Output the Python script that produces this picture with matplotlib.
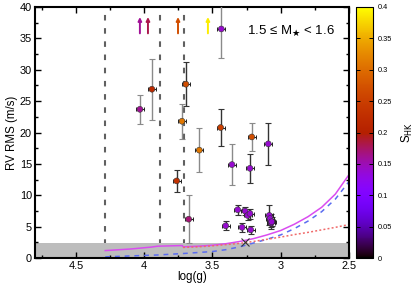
import matplotlib
matplotlib.use("Agg")
import matplotlib.pyplot as plt
import numpy as np
from matplotlib.colors import Normalize

plt.rcParams['font.family'] = ['Liberation Sans', 'DejaVu Sans']
plt.rcParams['mathtext.fontset'] = 'dejavusans'
plt.rcParams['lines.scale_dashes'] = False

# stars with measured RV RMS
logg = [4.031, 3.943, 3.694, 3.723, 3.596, 3.762, 3.674, 3.435, 3.440, 3.212,
        3.091, 3.357, 3.225,
        3.403, 3.315, 3.261, 3.242, 3.225, 3.283, 3.220, 3.084, 3.073, 3.069,
        3.078, 3.066]
rms = [23.7, 26.9, 27.7, 21.8, 17.2, 12.3, 6.2, 36.5, 20.8, 19.3,
       18.2, 14.9, 14.3,
       5.15, 7.7, 7.5, 6.8, 7.1, 4.9, 4.5, 6.8, 5.95, 5.6,
       6.3, 5.8]
rms_err = [2.3, 4.85, 3.5, 2.75, 3.5, 1.8, 3.8, 4.6, 2.9, 2.3,
           3.3, 3.3, 2.35,
           0.7, 0.8, 0.7, 0.7, 0.8, 0.7, 0.6, 1.6, 1.0, 0.9,
           0.8, 0.7]
logg_err = [0.03] * len(logg)
shk = [0.16, 0.22, 0.27, 0.31, 0.31, 0.23, 0.17, 0.14, 0.25, 0.27,
       0.14, 0.14, 0.14,
       0.14, 0.14, 0.14, 0.14, 0.14, 0.14, 0.14, 0.14, 0.14, 0.14,
       0.14, 0.14]
dark_err = [False, False, True, False, False, True, False, False, True, False,
            True, False, True,
            True, True, True, True, True, True, True, True, True, True,
            True, True]

# stars above the plotted range
arrow_logg = [4.031, 3.972, 3.752, 3.533]
arrow_shk = [0.16, 0.18, 0.27, 0.39]

# jitter model curves
curve_mag_g = [4.285, 4.1, 3.95, 3.9, 3.72, 3.715, 3.6, 3.5, 3.4, 3.3, 3.2,
               3.1, 3.0, 2.9, 2.8, 2.7, 2.6, 2.5]
curve_mag = [1.2, 1.45, 1.75, 1.9, 2.0, 1.8, 1.9, 2.05, 2.3, 2.65, 3.1,
             3.7, 4.4, 5.4, 6.6, 8.1, 10.2, 13.3]
curve_blue_g = [4.285, 4.1, 3.9, 3.7, 3.6, 3.5, 3.4, 3.3, 3.2, 3.1, 3.0,
                2.9, 2.8, 2.7, 2.6, 2.5]
curve_blue = [0.2, 0.35, 0.5, 0.75, 0.9, 1.05, 1.35, 1.8, 2.4, 3.0, 3.7,
              4.7, 5.9, 7.4, 9.4, 12.2]
curve_red_g = [3.715, 3.6, 3.5, 3.4, 3.3, 3.2, 3.1, 3.0, 2.9, 2.8, 2.7,
               2.6, 2.5]
curve_red = [1.7, 1.8, 1.95, 2.15, 2.35, 2.65, 3.0, 3.35, 3.75, 4.1, 4.5,
             4.9, 5.35]

vlines_g = [4.285, 3.884, 3.706]
floor_rms = 2.4
x_mark = (3.26, 2.6)

fig = plt.figure(figsize=(4.15, 2.91), dpi=100)
ax = fig.add_axes([0.084, 0.113, 0.757, 0.863])
cax = fig.add_axes([0.858, 0.113, 0.041, 0.863])

cmap = plt.get_cmap('gnuplot')
norm = Normalize(0, 0.4)

ax.axhspan(0, floor_rms, color='#bdbdbd', zorder=1, lw=0)
for g in vlines_g:
    ax.axvline(g, color='#606060', lw=1.5, dashes=(4, 5.5), zorder=0.5)

ax.plot(curve_mag_g, curve_mag, color='#d94cf0', lw=1.1, zorder=2)
ax.plot(curve_blue_g, curve_blue, color='#5a6cf0', lw=1.1, dashes=(3.5, 3.5), zorder=2)
ax.plot(curve_red_g, curve_red, color='#f06a6a', lw=1.1, dashes=(1.4, 1.6), zorder=2)

lg = np.array(logg); r = np.array(rms); re = np.array(rms_err); ge = np.array(logg_err)
d = np.array(dark_err)
for mask, col in [(~d, '#8a8a8a'), (d, '#333333')]:
    ax.errorbar(lg[mask], r[mask], yerr=re[mask], fmt='none', ecolor=col,
                elinewidth=1.0, capsize=2, capthick=0.8, zorder=3)
ax.errorbar(lg, r, xerr=ge, fmt='none', ecolor='#222222', elinewidth=0.8,
            capsize=1.5, capthick=0.7, zorder=3)
sc = ax.scatter(lg, r, c=shk, cmap=cmap, norm=norm, s=18, edgecolors='#333333',
                linewidths=0.4, zorder=4)

for g, s in zip(arrow_logg, arrow_shk):
    ax.annotate('', xy=(g, 38.4), xytext=(g, 35.8),
                arrowprops=dict(arrowstyle='-|>', color=cmap(norm(s)), lw=1.4,
                                mutation_scale=5, shrinkA=0, shrinkB=0), zorder=4)

ax.plot([x_mark[0]], [x_mark[1]], marker='x', color='#333333', ms=6, mew=0.8, zorder=5)

ax.text(0.955, 0.905, '1.5 ≤ M$_{\\bigstar}$ < 1.6', transform=ax.transAxes,
        ha='right', va='center', fontsize=9.5)

ax.set_xlim(4.8, 2.5)
ax.set_ylim(0, 40)
ax.set_xticks([4.5, 4, 3.5, 3, 2.5])
ax.set_xticklabels(['4.5', '4', '3.5', '3', '2.5'])
ax.set_xticks(np.arange(2.75, 4.8, 0.5), minor=True)
ax.set_yticks(range(0, 41, 5))
ax.set_yticks(np.arange(2.5, 40, 5), minor=True)
ax.tick_params(which='both', direction='in', top=True, right=True, labelsize=7.9,
               width=1.0, pad=2)
ax.tick_params(which='major', length=4)
ax.tick_params(which='minor', length=2.5)
for sp in ax.spines.values():
    sp.set_linewidth(1.5)
ax.set_xlabel('log(g)', fontsize=8.3, labelpad=0)
ax.set_ylabel('RV RMS (m/s)', fontsize=8.3, labelpad=1)

cb = fig.colorbar(sc, cax=cax)
cb.set_ticks([0, 0.05, 0.1, 0.15, 0.2, 0.25, 0.3, 0.35, 0.4])
cb.set_ticklabels(['0', '0.05', '0.1', '0.15', '0.2', '0.25', '0.3', '0.35', '0.4'])
cax.tick_params(direction='in', left=True, right=True, labelsize=5.3, length=3, width=0.7, pad=3)
cb.outline.set_linewidth(0.8)
cb.set_label(r'S$_{\rm HK}$', fontsize=8.3, labelpad=6)

fig.savefig('out.png', dpi=100)
